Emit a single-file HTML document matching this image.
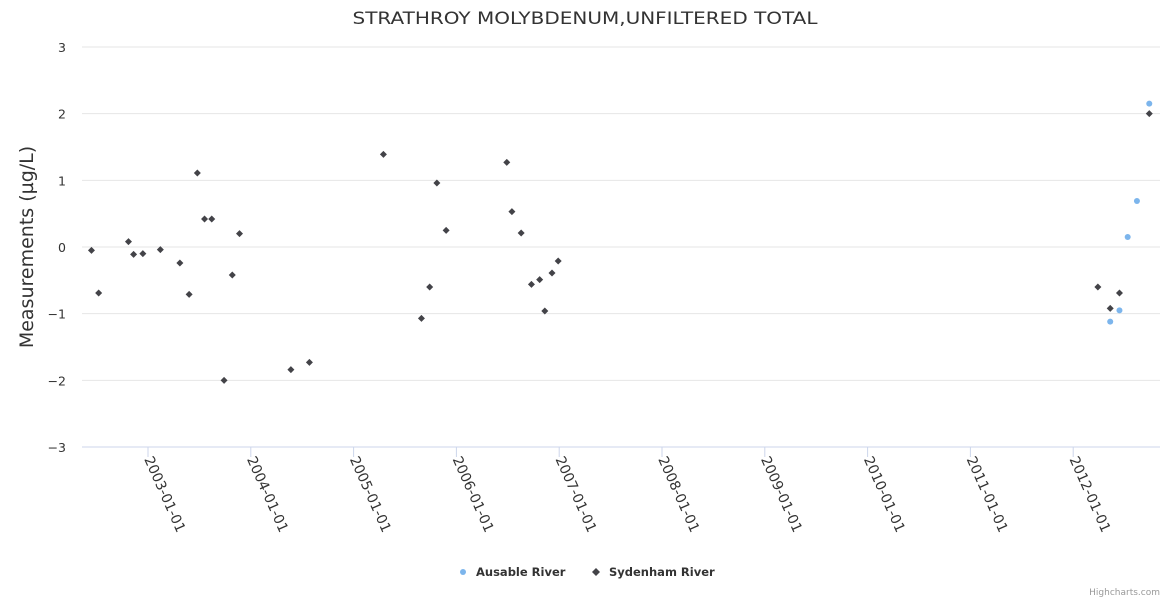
<!DOCTYPE html>
<html><head><meta charset="utf-8"><style>
body{margin:0;background:#fff;font-family:"DejaVu Sans","Liberation Sans",sans-serif}
svg text{font-family:"DejaVu Sans","Liberation Sans",sans-serif}
</style></head><body>
<svg id="c" width="1170" height="600" xmlns="http://www.w3.org/2000/svg">
<text x="585" y="24" text-anchor="middle" font-size="17" textLength="465" lengthAdjust="spacingAndGlyphs" fill="#333">STRATHROY MOLYBDENUM,UNFILTERED TOTAL</text>
<text transform="translate(33,247) rotate(-90)" text-anchor="middle" font-size="19" fill="#333">Measurements (µg/L)</text>
<g id="grid"></g><g id="xt"></g><g id="pts"></g>
<g>
<g><circle cx="463" cy="572" r="3" fill="#7cb5ec"/><text x="476" y="576" font-size="11.5" font-weight="bold" fill="#333">Ausable River</text></g>
<g><path d="M596 568 L600 572 L596 576 L592 572Z" fill="#434348"/><text x="609" y="576" font-size="11.5" font-weight="bold" fill="#333">Sydenham River</text></g>
</g>
<text x="1160" y="595" text-anchor="end" font-size="9" fill="#999">Highcharts.com</text>
</svg>
<script>
const yTicks=[-3,-2,-1,0,1,2,3];
const xTickYears=[2003,2004,2005,2006,2007,2008,2009,2010,2011,2012];
const sydX=[2002.45,2002.52,2002.81,2002.86,2002.95,2003.12,2003.31,2003.40,2003.48,2003.55,2003.62,2003.74,2003.82,2003.89,2004.39,2004.57,2005.29,2005.66,2005.74,2005.81,2005.90,2006.49,2006.54,2006.63,2006.73,2006.81,2006.86,2006.93,2006.99,2012.24,2012.36,2012.45,2012.74];
const sydY=[-0.05,-0.69,0.08,-0.11,-0.1,-0.04,-0.24,-0.71,1.11,0.42,0.42,-2.0,-0.42,0.2,-1.84,-1.73,1.39,-1.07,-0.6,0.96,0.25,1.27,0.53,0.21,-0.56,-0.49,-0.96,-0.39,-0.21,-0.6,-0.92,-0.69,2.0];
const ausX=[2012.36,2012.45,2012.53,2012.62,2012.74];
const ausY=[-1.12,-0.95,0.15,0.69,2.15];
const NS="http://www.w3.org/2000/svg";
const xs=v=>148+(v-2003)*102.8;
const ys=v=>247-v*66.67;
function mk(t,a,p){const e=document.createElementNS(NS,t);for(const k in a)e.setAttribute(k,a[k]);document.getElementById(p).appendChild(e);return e;}
yTicks.forEach(t=>{
 const l=mk('line',{x1:82,x2:1160,y1:ys(t),y2:ys(t),stroke:t===-3?'#ccd6eb':'#e6e6e6'},'grid');
 
 
 const tx=mk('text',{x:66,y:ys(t)+5,'text-anchor':'end','font-size':12.5,fill:'#333'},'grid');
 tx.textContent=t<0?'−'+(-t):String(t);
 
 
});
xTickYears.forEach(y=>{
 const x=xs(y);
 const l=mk('line',{x1:x,x2:x,y1:447,y2:457,stroke:'#ccd6eb'},'xt');
 
 
 const t=mk('text',{transform:`translate(${x-4},${459}) rotate(66)`,'font-size':14,fill:'#333'},'xt');
 t.textContent=y+'-01-01';
 
 
});
ausX.forEach((v,i)=>{
 const c=mk('circle',{cx:xs(v),cy:ys(ausY[i]),r:3,fill:'#7cb5ec'},'pts');
 
 
});
sydX.forEach((v,i)=>{
 const x=xs(v),y=ys(sydY[i]);
 const p=mk('path',{d:`M${x} ${y-3.5}L${x+3.5} ${y}L${x} ${y+3.5}L${x-3.5} ${y}Z`,fill:'#434348'},'pts');
 
 
});
</script>
</body></html>
